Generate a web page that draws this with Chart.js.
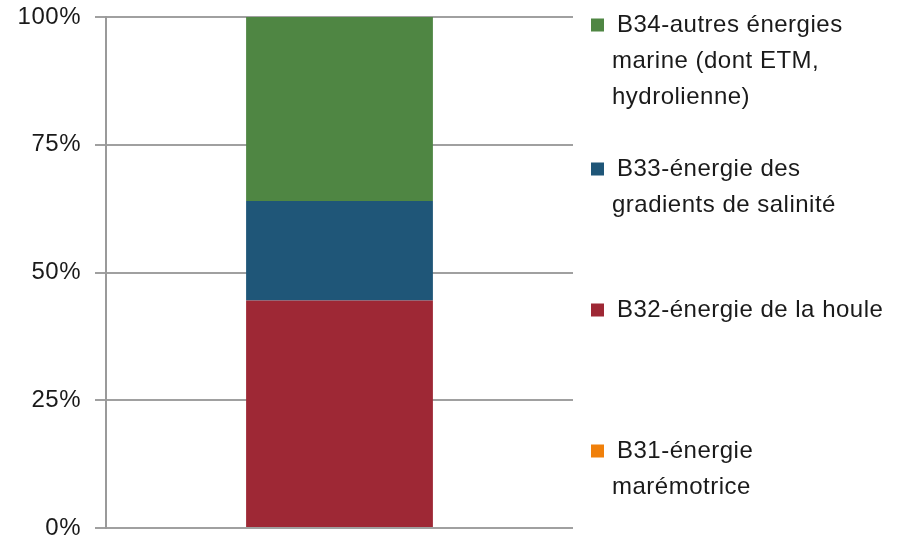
<!DOCTYPE html>
<html>
<head>
<meta charset="utf-8">
<script src="https://cdn.jsdelivr.net/npm/chart.js@4/dist/chart.umd.min.js"></script>
<style>
  html, body { margin: 0; padding: 0; background: #ffffff; }
  #wrap { width: 898px; height: 542px; position: relative; }
</style>
</head>
<body>
<div id="wrap"><canvas id="chart" width="898" height="542"></canvas></div>
<script>
// Share of marine energy sub-categories (stacked to 100%)
const categories = [''];
const seriesNames = [
  'B31-énergie marémotrice',
  'B32-énergie de la houle',
  'B33-énergie des gradients de salinité',
  'B34-autres énergies marine (dont ETM, hydrolienne)'
];
// Legend text split on separate lines
const legendLines = [
  ['B31-énergie', 'marémotrice'],
  ['B32-énergie de la houle'],
  ['B33-énergie des', 'gradients de salinité'],
  ['B34-autres énergies', 'marine (dont ETM,', 'hydrolienne)']
];
const b31Values = [0];
const b32Values = [44.5];
const b33Values = [19.5];
const b34Values = [36.0];
const yTicks = [0, 25, 50, 75, 100];

const colors = ['#F0800A', '#9E2835', '#1F5678', '#4F8643'];
const seriesValues = [b31Values, b32Values, b33Values, b34Values];

const FONT = '"Liberation Sans", Arial, sans-serif';
const TRACKING = '0.5px';

// Slightly wider text tracking for every label on the canvas
const tracking = {
  id: 'tracking',
  beforeDraw(chart) { chart.ctx.letterSpacing = TRACKING; }
};

// Legend on the right, drawn entry by entry (top entry = last series)
const sideLegend = {
  id: 'sideLegend',
  afterDraw(chart, args, opts) {
    const ctx = chart.ctx;
    ctx.save();
    ctx.letterSpacing = TRACKING;
    ctx.font = opts.fontSize + 'px ' + FONT;
    ctx.textBaseline = 'middle';
    ctx.textAlign = 'left';
    const ds = chart.data.datasets;
    opts.entryTops.forEach((top, k) => {
      const i = ds.length - 1 - k;
      const lines = legendLines[i];
      ctx.fillStyle = ds[i].backgroundColor;
      ctx.fillRect(opts.boxX, top - opts.box / 2, opts.box, opts.box);
      ctx.fillStyle = '#1a1a1a';
      lines.forEach((ln, j) => {
        const x = j === 0 ? opts.textX : opts.textX2;
        ctx.fillText(ln, x, top + j * opts.lineH);
      });
    });
    ctx.restore();
  }
};

new Chart(document.getElementById('chart'), {
  type: 'bar',
  data: {
    labels: categories,
    datasets: seriesNames.map((name, i) => ({
      label: name,
      data: seriesValues[i],
      backgroundColor: colors[i],
      borderWidth: 0,
      barPercentage: 0.4,
      categoryPercentage: 1.0
    }))
  },
  options: {
    responsive: false,
    animation: false,
    events: [],
    layout: { padding: { top: 17, bottom: 14, left: 0, right: 325 } },
    plugins: {
      legend: { display: false },
      tooltip: { enabled: false },
      sideLegend: {
        fontSize: 24,
        box: 13,
        boxX: 591,
        textX: 617,
        textX2: 612,
        lineH: 36,
        entryTops: [25, 169, 310, 451]
      }
    },
    scales: {
      x: {
        stacked: true,
        display: false
      },
      y: {
        stacked: true,
        min: 0,
        max: 100,
        afterFit(scale) {
          scale.width = 106;
          scale.paddingTop = 0;
          scale.paddingBottom = 0;
        },
        afterBuildTicks(scale) { scale.ticks = yTicks.map(v => ({ value: v })); },
        border: { display: true, color: '#9a9a9a', width: 2 },
        grid: {
          color: '#a0a0a0',
          lineWidth: 2,
          drawTicks: true,
          tickLength: 11
        },
        ticks: {
          padding: 14,
          color: '#1a1a1a',
          font: { family: FONT, size: 24 },
          callback: v => v + '%'
        }
      }
    }
  },
  plugins: [tracking, sideLegend]
});
</script>
</body>
</html>
